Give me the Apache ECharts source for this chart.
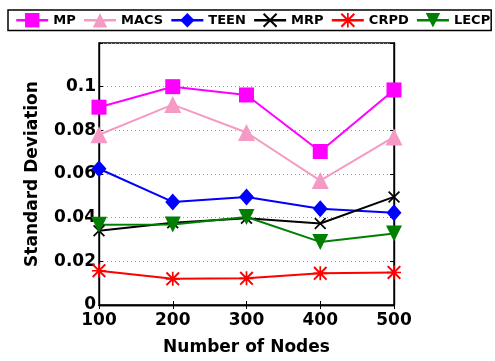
<!DOCTYPE html>
<html>
<head>
<meta charset="utf-8">
<script src="https://cdn.jsdelivr.net/npm/echarts@6/dist/echarts.min.js"></script>
<style>
  html, body { margin: 0; padding: 0; background: #fff; }
  #chart { width: 495px; height: 361px; }
</style>
</head>
<body>
<div id="chart"></div>
<script>
// Number of nodes on the x axis
const nodes = [100, 200, 300, 400, 500];

// Standard deviation per protocol
const mp   = [0.0906, 0.1000, 0.0962, 0.0703, 0.0985];
const macs = [0.0780, 0.0918, 0.0790, 0.0570, 0.0770];
const teen = [0.0624, 0.0472, 0.0495, 0.0441, 0.0422];
const mrp  = [0.0340, 0.0377, 0.0397, 0.0373, 0.0495];
const crpd = [0.0157, 0.0120, 0.0122, 0.0145, 0.0149];
const lecp = [0.0368, 0.0369, 0.0403, 0.0289, 0.0327];

const seriesNames = ['MP', 'MACS', 'TEEN', 'MRP', 'CRPD', 'LECP'];

// Marker shapes: an "x" cross and an eight-spoke asterisk as filled paths
const crossPath = 'path://M0,1 L1,0 L5,4 L9,0 L10,1 L6,5 L10,9 L9,10 L5,6 L1,10 L0,9 L4,5 Z';
const starPath = 'path://M4.4,0 H5.6 V10 H4.4 Z M0,4.4 H10 V5.6 H0 Z M1,0 L10,9 L9,10 L0,1 Z M9,0 L10,1 L1,10 L0,9 Z';

const font = 'DejaVu Sans';

function makeSeries(name, values, color, symbol, size, rotate) {
  return {
    name: name,
    type: 'line',
    data: nodes.map((n, i) => [n, values[i]]),
    symbol: symbol,
    symbolSize: size,
    symbolRotate: rotate || 0,
    showAllSymbol: true,
    lineStyle: { color: color, width: 2 },
    itemStyle: { color: color, opacity: 1 },
    emphasis: { disabled: true },
    animation: false
  };
}

const chart = echarts.init(document.getElementById('chart'), null, { renderer: 'canvas' });

chart.setOption({
  backgroundColor: '#ffffff',
  animation: false,
  legend: {
    data: seriesNames,
    left: 8,
    top: 10,
    width: 486,
    orient: 'horizontal',
    itemWidth: 32,
    itemHeight: 18,
    itemGap: 7,
    padding: [3, 1, 3, 7],
    borderColor: '#000',
    borderWidth: 1.5,
    lineStyle: { width: 2.5 },
    textStyle: { fontFamily: font, fontWeight: 'bold', fontSize: 13, color: '#000', padding: [0, 0, 0, 0] },
    selectedMode: false
  },
  grid: {
    left: 99,
    right: 101,
    top: 43,
    bottom: 56,
    show: true,
    borderColor: '#000',
    borderWidth: 1.4,
    backgroundColor: 'transparent'
  },
  xAxis: [{
    type: 'value',
    min: 100,
    max: 500,
    interval: 100,
    name: 'Number of Nodes',
    nameLocation: 'middle',
    nameGap: 34,
    nameTextStyle: { fontFamily: font, fontWeight: 'bold', fontSize: 17, color: '#000' },
    axisLine: { show: true, lineStyle: { color: '#000', width: 1.4 } },
    axisTick: { show: true, inside: true, length: 4, lineStyle: { color: '#000' } },
    axisLabel: { fontFamily: font, fontWeight: 'bold', fontSize: 17, color: '#000', margin: 7 },
    splitLine: { show: false }
  }, {
    type: 'value',
    position: 'top',
    min: 100,
    max: 500,
    interval: 100,
    axisLine: { show: true, lineStyle: { color: '#000', width: 1.4 } },
    axisTick: { show: true, inside: true, length: 4, lineStyle: { color: '#000' } },
    axisLabel: { show: false },
    splitLine: { show: false }
  }],
  yAxis: [{
    type: 'value',
    min: 0,
    max: 0.12,
    interval: 0.02,
    name: 'Standard Deviation',
    nameLocation: 'middle',
    nameGap: 58,
    nameTextStyle: { fontFamily: font, fontWeight: 'bold', fontSize: 17, color: '#000' },
    axisLine: { show: true, lineStyle: { color: '#000', width: 1.4 } },
    axisTick: { show: true, inside: true, length: 4, lineStyle: { color: '#000' } },
    axisLabel: {
      fontFamily: font, fontWeight: 'bold', fontSize: 17, color: '#000', margin: 3,
      formatter: v => (v > 0.11 ? '' : String(+v.toFixed(2)))
    },
    splitLine: { show: true, lineStyle: { color: '#9a9a9a', type: [1, 3], width: 1 } }
  }, {
    type: 'value',
    position: 'right',
    min: 0,
    max: 0.12,
    interval: 0.02,
    axisLine: { show: true, lineStyle: { color: '#000', width: 1.4 } },
    axisTick: { show: true, inside: true, length: 4, lineStyle: { color: '#000' } },
    axisLabel: { show: false },
    splitLine: { show: false }
  }],
  series: [
    makeSeries('MP',   mp,   '#ff00ff', 'rect', 15),
    makeSeries('MACS', macs, '#f59ac4', 'triangle', 17),
    makeSeries('TEEN', teen, '#0000ff', 'diamond', [15, 17]),
    makeSeries('MRP',  mrp,  '#000000', crossPath, 12),
    makeSeries('CRPD', crpd, '#ff0000', starPath, 14),
    makeSeries('LECP', lecp, '#007f00', 'triangle', 16, 180)
  ]
});
</script>
</body>
</html>
